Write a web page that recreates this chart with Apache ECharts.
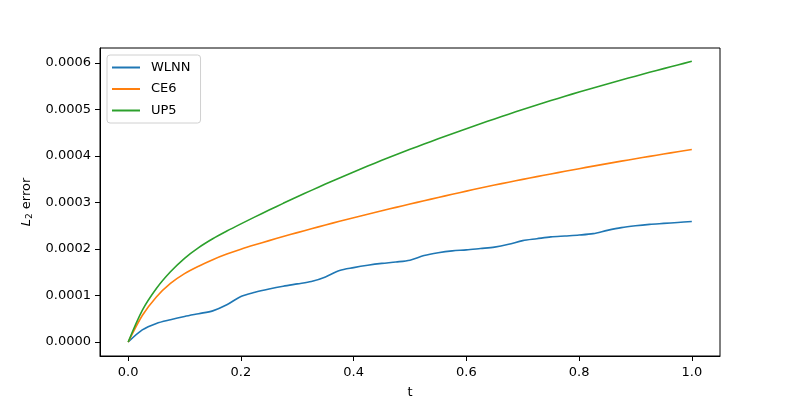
<!DOCTYPE html>
<html>
<head>
<meta charset="utf-8">
<script src="https://cdn.jsdelivr.net/npm/echarts@6/dist/echarts.min.js"></script>
<style>
  html, body { margin: 0; padding: 0; background: #fff; }
  #chart { width: 800px; height: 400px; }
</style>
</head>
<body>
<div id="chart"></div>
<script>
// time samples
var tValues = [0, 0.025, 0.05, 0.075, 0.1, 0.125, 0.15, 0.175, 0.2, 0.225, 0.25,
    0.275, 0.3, 0.325, 0.35, 0.375, 0.4, 0.425, 0.45, 0.475, 0.5,
    0.525, 0.55, 0.575, 0.6, 0.625, 0.65, 0.675, 0.7, 0.725, 0.75,
    0.775, 0.8, 0.825, 0.85, 0.875, 0.9, 0.925, 0.95, 0.975, 1.0]

// L2 error per method
var wlnn = [0, 0.000026, 0.000040, 0.000048, 0.000055, 0.000061, 0.000067, 0.000080, 0.000098, 0.000107, 0.000114,
    0.000120, 0.000125, 0.000130, 0.000140, 0.000154, 0.000160, 0.000165, 0.000169, 0.000172, 0.000176,
    0.000186, 0.000192, 0.000196, 0.000198, 0.000201, 0.000204, 0.000210, 0.000218, 0.000222, 0.000226,
    0.000228, 0.000230, 0.000233, 0.000240, 0.000246, 0.000250, 0.000253, 0.000255, 0.000257, 0.000259]
var ce6 = [0, 0.0000570, 0.0000970, 0.0001260, 0.0001470, 0.0001630, 0.0001770, 0.0001890, 0.0001995, 0.0002090, 0.0002180,
    0.0002267, 0.0002352, 0.0002435, 0.0002516, 0.0002595, 0.0002672, 0.0002747, 0.0002821, 0.0002894, 0.0002966,
    0.0003037, 0.0003107, 0.0003176, 0.0003244, 0.0003310, 0.0003374, 0.0003436, 0.0003496, 0.0003555, 0.0003613,
    0.0003670, 0.0003726, 0.0003781, 0.0003835, 0.0003888, 0.0003940, 0.0003991, 0.0004041, 0.0004090, 0.0004138]
var up5 = [0, 0.0000680, 0.0001150, 0.0001510, 0.0001800, 0.0002030, 0.0002220, 0.0002385, 0.0002540, 0.0002690, 0.0002837,
    0.0002981, 0.0003122, 0.0003260, 0.0003395, 0.0003527, 0.0003656, 0.0003782, 0.0003905, 0.0004025, 0.0004142,
    0.0004256, 0.0004368, 0.0004478, 0.0004586, 0.0004692, 0.0004796, 0.0004898, 0.0004998, 0.0005095, 0.0005190,
    0.0005283, 0.0005374, 0.0005462, 0.0005548, 0.0005632, 0.0005715, 0.0005797, 0.0005877, 0.0005956, 0.0006034]

var seriesNames = ['WLNN', 'CE6', 'UP5']
var seriesColors = ['#1f77b4', '#ff7f0e', '#2ca02c']
var xTicks = [0, 0.2, 0.4, 0.6, 0.8, 1.0]
var yTicks = [0, 0.0001, 0.0002, 0.0003, 0.0004, 0.0005, 0.0006]

function pairs (ys) {
    return tValues.map(function (t, i) { return [t, ys[i]] })
}

var chart = echarts.init(document.getElementById('chart'))
var font = 'DejaVu Sans'
var allData = [wlnn, ce6, up5]

var option = {
    animation: false,
    backgroundColor: '#fff',
    textStyle: { fontFamily: font },
    grid: {
        left: 100,
        right: 80,
        top: 48,
        bottom: 44,
        outerBoundsMode: 'none',
        containLabel: false,
        show: true,
        borderColor: '#000',
        borderWidth: 1
    },
    legend: {
        orient: 'vertical',
        left: 107,
        top: 55,
        data: seriesNames,
        icon: 'rect',
        itemWidth: 28,
        itemHeight: 2,
        itemGap: 8.5,
        backgroundColor: '#fff',
        borderColor: '#d0d0d0',
        borderWidth: 1,
        borderRadius: 3,
        padding: [6, 10, 6, 5],
        textStyle: { fontFamily: font, fontSize: 13, color: '#000', padding: [0, 0, 0, 6] }
    },
    xAxis: {
        type: 'value',
        min: -0.05,
        max: 1.05,
        name: 't',
        nameLocation: 'middle',
        nameGap: 30,
        nameTextStyle: { fontFamily: font, fontSize: 13, color: '#000' },
        axisLine: { show: true, onZero: false, lineStyle: { color: '#000', width: 1 } },
        axisTick: { show: true, length: 5, lineStyle: { color: '#000' }, customValues: xTicks },
        axisLabel: {
            fontFamily: font, fontSize: 13, color: '#000', margin: 10,
            customValues: xTicks,
            formatter: function (v) { return v.toFixed(1) }
        },
        splitLine: { show: false }
    },
    yAxis: {
        type: 'value',
        min: -0.00003,
        max: 0.000632,
        name: '{i|L}{s|2} error',
        nameLocation: 'middle',
        nameGap: 66,
        nameRotate: 90,
        nameTextStyle: {
            fontFamily: font, fontSize: 13, color: '#000',
            rich: {
                i: { fontFamily: font, fontSize: 13, fontStyle: 'italic', color: '#000' },
                s: { fontFamily: font, fontSize: 9, color: '#000', verticalAlign: 'bottom', padding: [6, 0, 0, 0] }
            }
        },
        axisLine: { show: true, onZero: false, lineStyle: { color: '#000', width: 1 } },
        axisTick: { show: true, length: 5, lineStyle: { color: '#000' }, customValues: yTicks },
        axisLabel: {
            fontFamily: font, fontSize: 13, color: '#000', margin: 9,
            customValues: yTicks,
            formatter: function (v) { return v.toFixed(4) }
        },
        splitLine: { show: false }
    },
    series: seriesNames.map(function (name, k) {
        return {
            name: name,
            type: 'line',
            data: pairs(allData[k]),
            smooth: 0.3,
            showSymbol: false,
            symbol: 'none',
            lineStyle: { color: seriesColors[k], width: 1.6 },
            itemStyle: { color: seriesColors[k] }
        }
    })
}
chart.setOption(option)
</script>
</body>
</html>
